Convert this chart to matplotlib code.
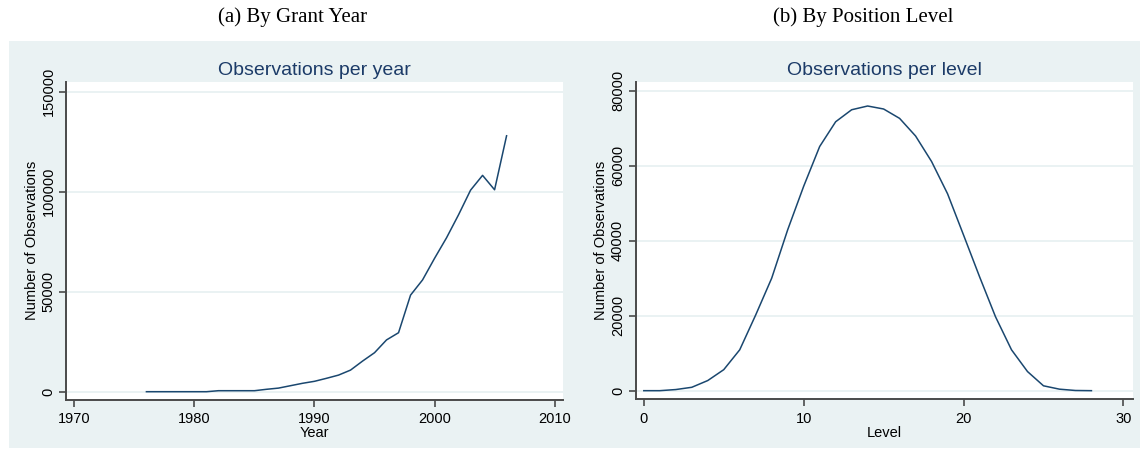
import matplotlib.pyplot as plt
from matplotlib.patches import Rectangle

# observations per grant year
years = list(range(1976, 2007))
obs_year = [0, 0, 0, 0, 0, 0, 500, 500, 500, 500, 1200, 1800, 3000, 4200, 5200,
            6700, 8300, 10800, 15300, 19500, 25900, 29500, 48300, 55900, 66700,
            77000, 88500, 100800, 108200, 101000, 128000]

# observations per position level
levels = list(range(0, 29))
obs_level = [0, 0, 300, 900, 2700, 5600, 10900, 20200, 30000, 42900, 54500,
             65100, 71700, 74900, 75900, 75100, 72600, 67900, 61100, 52500,
             41500, 30400, 19700, 10900, 5100, 1300, 400, 50, 0]

line_color = '#1a476f'
title_color = '#1c3b68'
bg_color = '#eaf2f3'
axis_color = '#4a4a4a'

plt.rcParams['font.family'] = ['Liberation Sans', 'DejaVu Sans']

fig = plt.figure(figsize=(11.4, 4.5), dpi=100, facecolor='white')
fig.patches.append(Rectangle((9 / 1140, 2 / 450), 1131 / 1140, 407 / 450,
                             transform=fig.transFigure, facecolor=bg_color,
                             edgecolor='none', zorder=-10))

ax1 = fig.add_axes([66 / 1140, 50.5 / 450, 497 / 1140, 317.5 / 450])
ax2 = fig.add_axes([635.5 / 1140, 50.7 / 450, 497.5 / 1140, 317.3 / 450])


def style_axes(ax, yticks, xticks):
    ax.set_facecolor('white')
    for side in ['top', 'right']:
        ax.spines[side].set_visible(False)
    for side in ['left', 'bottom']:
        ax.spines[side].set_color(axis_color)
        ax.spines[side].set_linewidth(1.4)
    ax.set_yticks(yticks)
    ax.set_xticks(xticks)
    ax.tick_params(axis='both', direction='out', length=5, width=1.2,
                   color=axis_color, labelsize=10.5, labelcolor='black')
    ax.tick_params(axis='x', pad=4)
    ax.tick_params(axis='y', pad=2.5)
    for lab in ax.get_yticklabels():
        lab.set_rotation(90)
        lab.set_va('center')
    ax.grid(axis='y', color=bg_color, linewidth=1.4)
    ax.set_axisbelow(True)


ax1.plot(years, obs_year, color=line_color, linewidth=1.1)
ax1.set_xlim(1969.3, 2010.7)
ax1.set_ylim(-3900, 154900)
style_axes(ax1, [0, 50000, 100000, 150000], [1970, 1980, 1990, 2000, 2010])
ax1.set_title('Observations per year', color=title_color, fontsize=14, pad=5)
ax1.set_xlabel('Year', fontsize=10.5, labelpad=0)
ax1.set_ylabel('Number of Observations', fontsize=10.5, labelpad=2)

ax2.plot(levels, obs_level, color=line_color, linewidth=1.1)
ax2.set_xlim(-0.52, 30.6)
ax2.set_ylim(-2300, 82300)
style_axes(ax2, [0, 20000, 40000, 60000, 80000], [0, 10, 20, 30])
ax2.set_title('Observations per level', color=title_color, fontsize=14, pad=5)
ax2.set_xlabel('Level', fontsize=10.5, labelpad=0)
ax2.set_ylabel('Number of Observations', fontsize=10.5, labelpad=2)

fig.text(293 / 1140, 1 - 17 / 450, '(a) By Grant Year', ha='center', va='center',
         fontsize=15, family=['Liberation Serif', 'DejaVu Serif'])
fig.text(863 / 1140, 1 - 17 / 450, '(b) By Position Level', ha='center', va='center',
         fontsize=15, family=['Liberation Serif', 'DejaVu Serif'])

fig.savefig('out.png', dpi=100, facecolor='white')
